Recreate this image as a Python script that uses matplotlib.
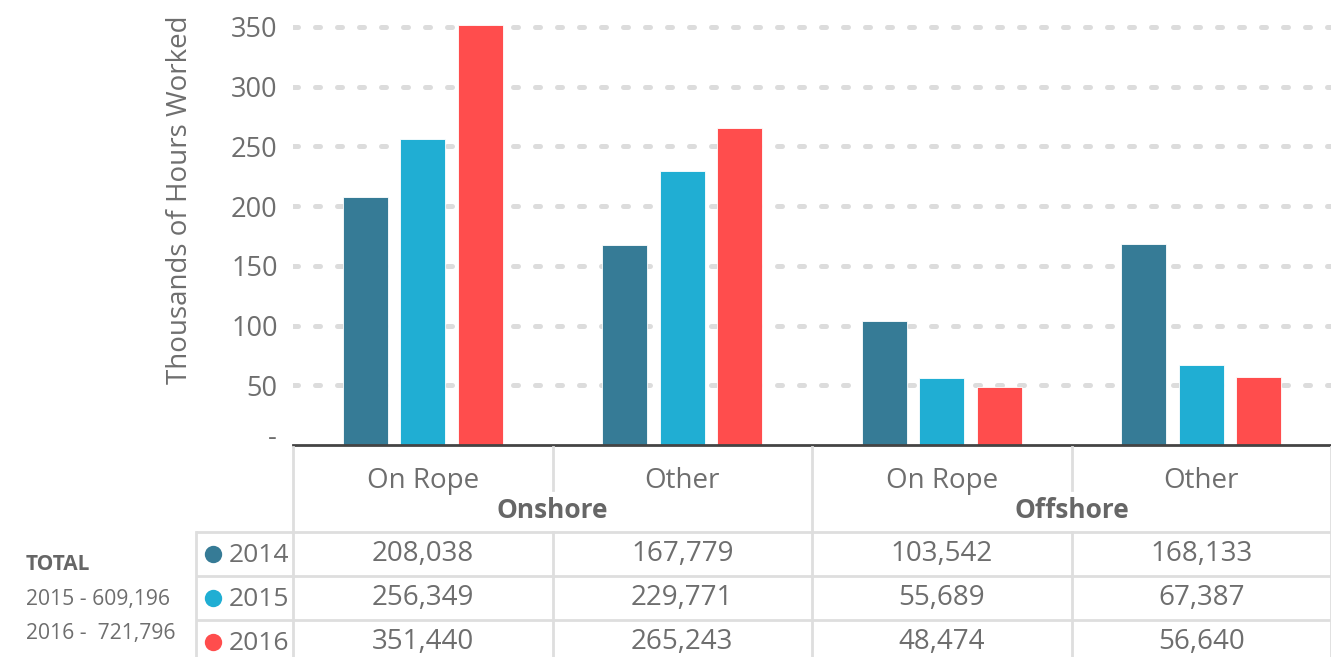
import matplotlib.pyplot as plt
import matplotlib.transforms as mtrans
import numpy as np

plt.rcParams['font.family'] = ['Open Sans', 'DejaVu Sans']

categories = ['On Rope', 'Other', 'On Rope', 'Other']
groups = ['Onshore', 'Offshore']
years = ['2014', '2015', '2016']
hours_2014 = [208038, 167779, 103542, 168133]
hours_2015 = [256349, 229771, 55689, 67387]
hours_2016 = [351440, 265243, 48474, 56640]
totals = ['2015 - 609,196', '2016 -  721,796']
colors = ['#367b96', '#20aed3', '#ff4d4d']

W, H = 1331, 657
fig = plt.figure(figsize=(W / 100, H / 100), dpi=100)
fig.patch.set_facecolor('white')

txt = '#6e6e6e'
grid_c = '#dcdcdc'
line_c = '#dedede'

# main bar chart
ax = fig.add_axes([293 / W, (H - 445) / H, (W - 293) / W, (445 - 21) / H])
series = [hours_2014, hours_2015, hours_2016]
x = np.arange(len(categories))
step, width = 0.222, 0.173
for i, vals in enumerate(series):
    ax.bar(x + (i - 1) * step, np.array(vals) / 1000, width, color=colors[i],
           edgecolor='white', linewidth=0.6, zorder=3)

ax.set_xlim(-0.5, 3.5)
ax.set_ylim(0, 355)
ticks = np.arange(0, 351, 50)
ax.set_yticks(ticks)
ax.set_yticklabels([''] + [str(t) for t in ticks[1:]], fontsize=19.5, color=txt)
ax.tick_params(axis='y', length=0, pad=11)
ax.set_xticks([])
for s in ['top', 'right', 'left']:
    ax.spines[s].set_visible(False)
ax.spines['bottom'].set_color('#444444')
ax.spines['bottom'].set_linewidth(2)
ax.spines['bottom'].set_zorder(4)
for t in ticks[1:]:
    ax.axhline(t, color=grid_c, linewidth=3.6, linestyle=(0, (1, 3.4)),
               dash_capstyle='round', zorder=0)
# zero label sits a little above the axis line
ax.text(-0.5, 0, '-', transform=ax.transData + mtrans.ScaledTranslation(
    -16 / 100, 7 / 100, fig.dpi_scale_trans), ha='right', va='center',
    fontsize=19.5, color=txt)

fig.text(180 / W, 1 - 200 / H, 'Thousands of Hours Worked', rotation=90,
         fontsize=20, color=txt, ha='center', va='center')

# data table below the chart, in pixel rows
tax = fig.add_axes([0, 0, 1, 1], facecolor='none')
tax.set_xlim(0, W)
tax.set_ylim(H, 0)
tax.axis('off')
bt = mtrans.blended_transform_factory(ax.transData, tax.transData)

row_tops = [532, 576, 620]
row_h = 44
lw = 2
# horizontal lines
for y in row_tops + [row_tops[-1] + row_h]:
    tax.plot([196, W], [y, y], color=line_c, lw=lw, solid_capstyle='butt')
# vertical lines
tax.plot([196, 196], [532, 670], color=line_c, lw=lw)
for b in [-0.5, 1.5, 3.5]:
    tax.plot([b, b], [447, 670], color=line_c, lw=lw, transform=bt)
for b in [0.5, 2.5]:
    tax.plot([b, b], [447, 490], color=line_c, lw=lw, transform=bt)
    tax.plot([b, b], [532, 670], color=line_c, lw=lw, transform=bt)

for i, c in enumerate(categories):
    tax.text(i, 481, c, transform=bt, ha='center', va='center',
             fontsize=20, color=txt)
for g, name in enumerate(groups):
    tax.text(2 * g + 0.5, 510, name, transform=bt, ha='center', va='center',
             fontsize=19, color='#666666', fontweight='bold')

for r, vals in enumerate(series):
    yc = row_tops[r] + row_h / 2
    tax.plot(213, yc, 'o', ms=12.5, color=colors[r], mec='none')
    tax.text(229, yc + 1, years[r], ha='left', va='center', fontsize=19,
             color=txt)
    for i, v in enumerate(vals):
        tax.text(i, yc, f'{v:,}', transform=bt, ha='center', va='center',
                 fontsize=20, color=txt)

fig.text(26 / W, 1 - 564 / H, 'TOTAL', fontsize=15, fontweight='bold',
         color='#666666', ha='left', va='center')
for k, t in enumerate(totals):
    fig.text(26 / W, 1 - (599 + 35 * k) / H, t, fontsize=15.2, color=txt,
             ha='left', va='center')

fig.savefig('out.png', dpi=100)
